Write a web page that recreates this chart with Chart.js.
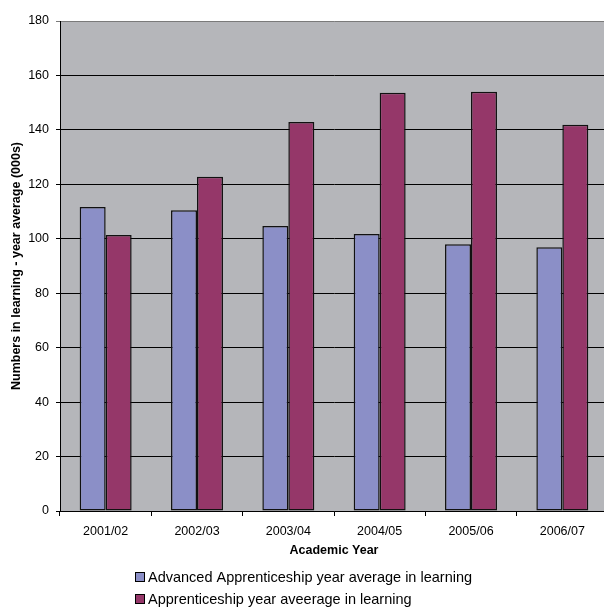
<!DOCTYPE html>
<html>
<head>
<meta charset="utf-8">
<script src="https://cdn.jsdelivr.net/npm/chart.js@4/dist/chart.umd.min.js"></script>
<style>
  html, body { margin: 0; padding: 0; background: #ffffff; overflow: hidden; width: 604px; height: 608px; }
  #wrap { position: relative; width: 608px; height: 608px; }
</style>
</head>
<body>
<div id="wrap"><canvas id="c" width="608" height="608"></canvas></div>
<script>
const categories = ['2001/02', '2002/03', '2003/04', '2004/05', '2005/06', '2006/07'];
const advancedValues = [111.7, 110.5, 104.7, 101.8, 98.0, 96.9];
const apprenticeshipValues = [101.4, 122.8, 142.9, 153.6, 154.0, 141.9];
const seriesNames = ['Advanced Apprenticeship year average in learning', 'Apprenticeship year aveerage in learning'];
const seriesColors = ['#8b8fc7', '#953769'];
const yTitle = 'Numbers in learning - year average (000s)';
const xTitle = 'Academic Year';

const FONT = 'Arial, "Liberation Sans", sans-serif';

const bgPlugin = {
  id: 'plotBg',
  beforeDraw(chart) {
    const { ctx, chartArea: a } = chart;
    ctx.save();
    ctx.fillStyle = '#b5b6ba';
    ctx.fillRect(a.left, a.top, a.right - a.left, a.bottom - a.top);
    ctx.restore();
  }
};

const legendPlugin = {
  id: 'customLegend',
  afterDraw(chart) {
    const { ctx } = chart;
    ctx.save();
    ctx.font = '14.5px ' + FONT;
    ctx.textBaseline = 'middle';
    ctx.textAlign = 'left';
    chart.data.datasets.forEach((ds, i) => {
      const cy = 577 + i * 22;
      ctx.fillStyle = ds.backgroundColor;
      ctx.fillRect(135.5, cy - 4.5, 9, 9);
      ctx.strokeStyle = '#000';
      ctx.lineWidth = 1;
      ctx.strokeRect(135.5, cy - 4.5, 9, 9);
      ctx.fillStyle = '#000';
      ctx.fillText(ds.label, 148, cy + 1);
    });
    ctx.restore();
  }
};

new Chart(document.getElementById('c'), {
  type: 'bar',
  data: {
    labels: categories,
    datasets: [
      { label: seriesNames[0], data: advancedValues, backgroundColor: seriesColors[0], borderColor: '#111', borderWidth: 1.5, borderSkipped: false },
      { label: seriesNames[1], data: apprenticeshipValues, backgroundColor: seriesColors[1], borderColor: '#111', borderWidth: 1.5, borderSkipped: false }
    ]
  },
  options: {
    responsive: false,
    animation: false,
    devicePixelRatio: 1,
    layout: { padding: { top: 21, right: 0, bottom: 47, left: 0 } },
    datasets: { bar: { categoryPercentage: 0.569, barPercentage: 1.0 } },
    plugins: { legend: { display: false }, tooltip: { enabled: false } },
    scales: {
      x: {
        afterFit(scale) { scale.height = 50; },
        grid: { offset: true, drawOnChartArea: false, drawTicks: true, tickLength: 5, color: '#000', lineWidth: 1 },
        border: { display: true, color: '#000', width: 1 },
        ticks: { color: '#000', font: { family: FONT, size: 12.5 }, padding: 8, maxRotation: 0 },
        title: { display: true, text: xTitle, color: '#000', font: { family: FONT, size: 12.5, weight: 'bold' }, padding: { top: 4, bottom: 2.5 } }
      },
      y: {
        min: 0, max: 180,
        afterFit(scale) { scale.width = 60; },
        grid: {
          drawTicks: true, tickLength: 4, lineWidth: 1,
          color: (c) => (c.tick && c.tick.value === 180) ? '#7a7a7a' : '#000'
        },
        border: { display: true, color: '#000', width: 1 },
        ticks: { stepSize: 20, color: '#000', font: { family: FONT, size: 12.5 }, padding: 7 },
        title: { display: true, text: yTitle, color: '#000', font: { family: FONT, size: 12.5, weight: 'bold' }, padding: { top: 9.5, bottom: 0 } }
      }
    }
  },
  plugins: [bgPlugin, legendPlugin]
});
</script>
</body>
</html>
